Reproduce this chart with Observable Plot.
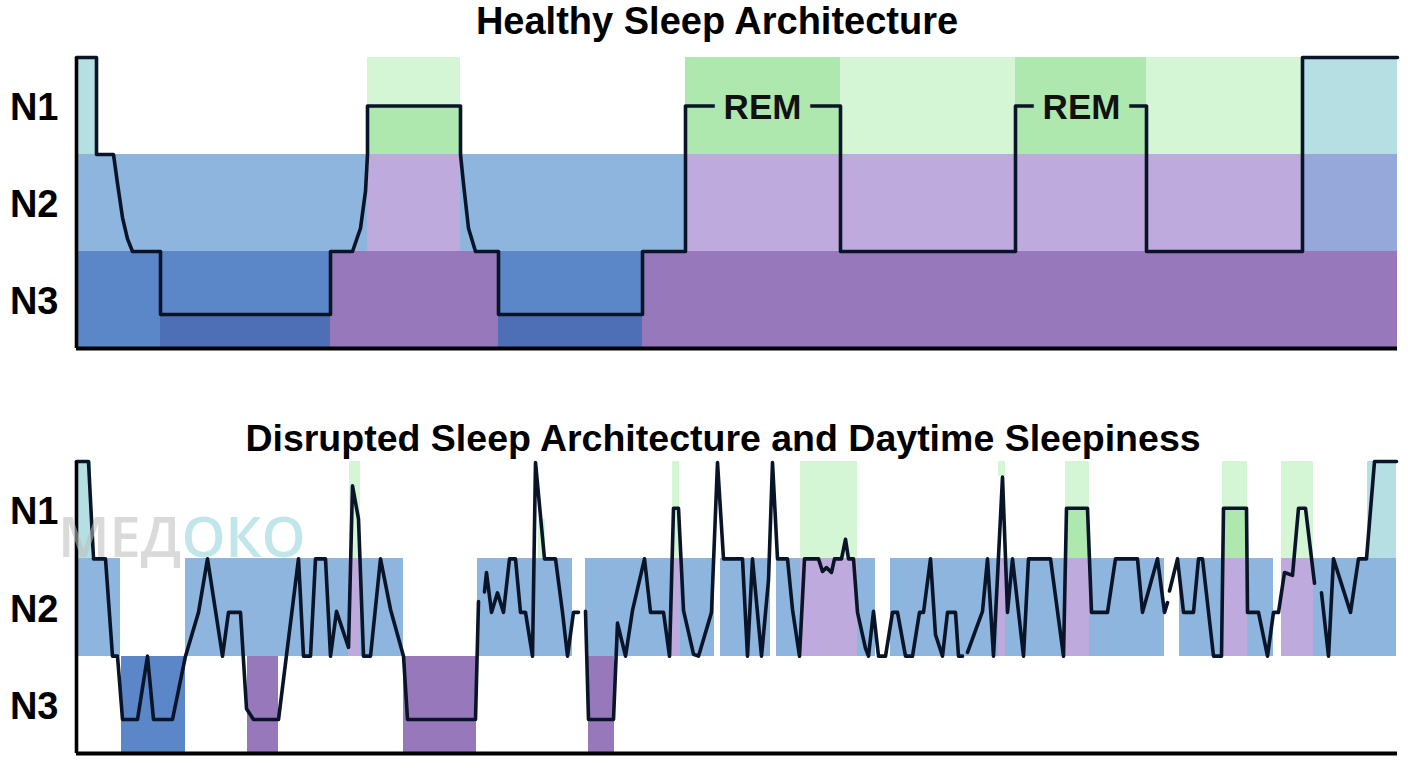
<!DOCTYPE html>
<html><head><meta charset="utf-8">
<script src="https://cdn.jsdelivr.net/npm/d3@7"></script>
<script src="https://cdn.jsdelivr.net/npm/@observablehq/plot@0.6"></script>
<style>
html,body{margin:0;padding:0;background:#fff;}
#wrap{position:relative;width:1408px;height:768px;overflow:hidden;font-family:"Liberation Sans",Arial,sans-serif;}
#wrap svg{display:block;}
.wm{position:absolute;left:58px;top:507px;font-family:"Open Sans",sans-serif;font-size:56px;line-height:56px;font-weight:600;pointer-events:none;opacity:.55;white-space:nowrap;}
.wm .g{color:#bdbdbd}.wm .t{color:#8fd3d8}
</style></head><body><div id="wrap"></div>
<script>
// ---- data ----
const titles = ["Healthy Sleep Architecture", "Disrupted Sleep Architecture and Daytime Sleepiness"];
const stageLabels = ["N1", "N2", "N3"];
const stageTicks = [0.5, 1.5, 2.5];
const timeDomain = [0, 1321];
const depthDomain = [0, 3];

const kindNames  = ["wake", "wakeBlue", "light", "deep", "deepCore", "rem", "remPale", "remLilac", "deepRem"];
const kindColors = ["#b5dfe3", "#96a8da", "#8db5dd", "#5b87c9", "#4e6fb6", "#aee8ae", "#d5f6d5", "#bfaadd", "#9779bb"];

// [t start, t end, depth top, depth bottom, kind]
const healthyBlocks = [
  [0,20,0,1,"wake"],[291,384,0,0.5,"remPale"],[291,384,0.5,1,"rem"],[609,764,0,1,"rem"],
  [764,939,0,1,"remPale"],[939,1070,0,1,"rem"],[1070,1226,0,1,"remPale"],[1226,1321,0,1,"wake"],
  [0,291,1,2,"light"],[291,384,1,2,"remLilac"],[384,609,1,2,"light"],[609,1226,1,2,"remLilac"],[1226,1321,1,2,"wakeBlue"],
  [0,84,2,3,"deep"],[84,254,2,2.65,"deep"],[84,254,2.65,3,"deepCore"],[254,422,2,3,"deepRem"],
  [422,566,2,2.65,"deep"],[422,566,2.65,3,"deepCore"],[566,1321,2,3,"deepRem"]
];
// [t, depth]
const healthyPath = [
  [0,0],[20,0],[20,1],[37,1],[41,1.3],[46,1.65],[51,1.87],[56,2],[84,2],[84,2.65],[254,2.65],[254,2],
  [276,2],[284,1.76],[289,1.38],[291,1],[291,0.5],[384,0.5],[384,1],[387,1.3],[392,1.76],[399,2],
  [422,2],[422,2.65],[566,2.65],[566,2],[609,2],[609,0.5],[764,0.5],[764,2],[939,2],[939,0.5],
  [1070,0.5],[1070,2],[1226,2],[1226,0],[1321,0]
];
const remLabels = [[686,0.5,"REM"],[1005,0.5,"REM"]];

const disruptedBlocks = [
  [0,15,0,1,"wake"],[273,284,0,1,"remPale"],[462,469,0.6,1,"remPale"],[596,603,0,1,"remPale"],
  [724,781,0,1,"remPale"],[922,929,0,0.15,"remPale"],[989,1013,0,0.47,"remPale"],[989,1013,0.47,1,"rem"],
  [1146,1171,0,0.47,"remPale"],[1146,1171,0.47,1,"rem"],[1205,1237,0,1,"remPale"],[1291,1320,0,1,"wake"],
  [0,44,1,2,"light"],[109,272,1,2,"light"],[272,284,1,2,"remLilac"],[284,327,1,2,"light"],
  [401,496,1,2,"light"],[509,596,1,2,"light"],[596,604,1,2,"remLilac"],[604,638,1,2,"light"],
  [644,694,1,2,"light"],[700,724,1,2,"light"],[724,781,1,2,"remLilac"],[781,799,1,2,"light"],
  [814,922,1,2,"light"],[922,929,1,2,"remLilac"],[929,989,1,2,"light"],[989,1013,1,2,"remLilac"],
  [1013,1088,1,2,"light"],[1103,1146,1,2,"light"],[1146,1171,1,2,"remLilac"],[1171,1197,1,2,"light"],
  [1205,1237,1,2,"remLilac"],[1237,1320,1,2,"light"],
  [45,109,2,3,"deep"],[171,202,2,3,"deepRem"],[327,400,2,3,"deepRem"],[512,538,2,3,"deepRem"]
];
const disruptedSegA = [
  [0,0],[12,0],[17,1],[29,1],[36,2],[41,2],[46,2.65],[61,2.65],[71,2],[77,2.65],[96,2.65],[109,2],
  [122,1.55],[131,1],[146,2],[152,1.55],[164,1.55],[170,2.54],[177,2.65],[202,2.65],[222,1],[227,2],
  [234,2],[239,1],[249,1],[254,2],[260,1.54],[272,1.91],[276,0.25],[282,0.59],[287,2],[294,2],[304,1],
  [314,1.52],[327,2],[331,2.65],[399,2.65],[402,1.44]
];
const disruptedSegB = [
  [408,1.34],[410,1.14],[415,1.55],[421,1.35],[427,1.55],[433,1],[439,1],[444,1.55],[449,1.55],[456,2],
  [459,0.01],[468,1],[479,1],[486,1.55],[491,2],[497,1.55],[502,1.55]
];
const disruptedSegC = [
  [509,1.54],[512,2.65],[537,2.65],[541,1.66],[549,2],[556,1.53],[568,1],[574,1.55],[587,1.55],[593,2],
  [597,0.48],[602,0.48],[607,1.53],[617,1.98],[622,2],[635,1.55],[641,0.01],[647,1],[666,1],[671,2],
  [676,1],[685,2],[692,1.22],[696,0.01],[701,1],[711,1],[716,1.52],[723,2],[728,1],[742,1],[746,1.13],
  [750,1.09],[755,1.14],[758,1],[765,1],[769,0.8],[772,1],[777,1],[781,1.55],[789,1.92],[792,2],
  [797,1.54],[802,2],[809,2],[816,1.55],[821,1.55],[829,2],[836,2],[843,1.55],[847,1.55],[854,1],
  [859,1.78],[866,2],[871,1.55],[879,1.55],[882,2],[886,2]
];
const disruptedSegD = [
  [891,1.96],[906,1.54],[911,1],[917,2],[926,0.16],[931,1.55],[936,1],[947,2],[952,1],[974,1],[987,2],
  [990,0.48],[1011,0.48],[1015,1.55],[1031,1.55],[1039,1],[1061,1],[1066,1.55],[1081,1],[1088,1.55],[1091,1.45]
];
const disruptedSegE = [
  [1093,1.33],[1101,1],[1107,1.55],[1117,1.55],[1122,1],[1126,1],[1137,2],[1145,2],[1147,0.48],[1170,0.48],
  [1171,1.55],[1182,1.55],[1191,2],[1197,1.55],[1202,1.55],[1208,1.14],[1216,1.17],[1222,0.48],[1229,0.48],[1238,1.25]
];
const disruptedSegF = [
  [1245,1.35],[1252,2],[1257,1],[1274,1.55],[1282,1],[1290,1],[1298,0],[1320,0]
];

// ---- drawing ----
const FONT = "'Liberation Sans', Arial, Helvetica, sans-serif";
const LINE = "#0a1428";

function panel({blocks, segments, title, height, marginTop, marginBottom, titleDy, titleDx, titleSize, labels}) {
  const pathData = segments.flatMap((s, k) => s.map(p => ({t: p[0], d: p[1], k})));
  const marks = [
    Plot.rect(blocks, {x1: d => d[0], x2: d => d[1], y1: d => d[2], y2: d => d[3], fill: d => d[4], inset: 0, shapeRendering: "crispEdges"}),
    Plot.line(pathData, {x: "t", y: "d", z: "k", stroke: LINE, strokeWidth: 3.6}),
  ];
  if (labels) {
    marks.push(Plot.text(labels, {x: d => d[0], y: d => d[1], text: d => d[2], fontSize: 35, fontWeight: "bold",
      fontFamily: FONT, fill: "#111", stroke: "#aee8ae", strokeWidth: 22, paintOrder: "stroke", dy: 2}));
  }
  marks.push(
    Plot.ruleX([0], {stroke: "#000", strokeWidth: 3.6}),
    Plot.ruleY([3], {stroke: "#000", strokeWidth: 4}),
    Plot.axisY({ticks: stageTicks, tickFormat: d => stageLabels[Math.floor(d)], tickSize: 0, tickPadding: 18,
      fontSize: 38, fontWeight: "bold", color: "#000", fontFamily: FONT, dy: 2, label: null}),
    Plot.text([title], {frameAnchor: "top", lineAnchor: "middle", dy: titleDy, dx: titleDx, fontSize: titleSize,
      fontWeight: "bold", fill: "#000", fontFamily: FONT})
  );
  return Plot.plot({
    width: 1408, height, marginLeft: 76, marginRight: 11, marginTop, marginBottom,
    style: {fontFamily: FONT, background: "transparent", overflow: "visible"},
    x: {domain: timeDomain, axis: null},
    y: {domain: depthDomain, reverse: true, label: null},
    color: {domain: kindNames, range: kindColors},
    marks
  });
}

const wrap = document.getElementById("wrap");
wrap.appendChild(panel({blocks: healthyBlocks, segments: [healthyPath], title: titles[0],
  height: 390, marginTop: 57, marginBottom: 42, titleDy: -36, titleDx: -20, titleSize: 38, labels: remLabels}));
wrap.appendChild(panel({blocks: disruptedBlocks,
  segments: [disruptedSegA, disruptedSegB, disruptedSegC, disruptedSegD, disruptedSegE, disruptedSegF],
  title: titles[1], height: 378, marginTop: 71, marginBottom: 15, titleDy: -23, titleDx: -14, titleSize: 37.5}));
const wm = document.createElement("div");
wm.className = "wm";
wm.innerHTML = '<span class="g">МЕД</span><span class="t">ОКО</span>';
wrap.appendChild(wm);
</script></body></html>
